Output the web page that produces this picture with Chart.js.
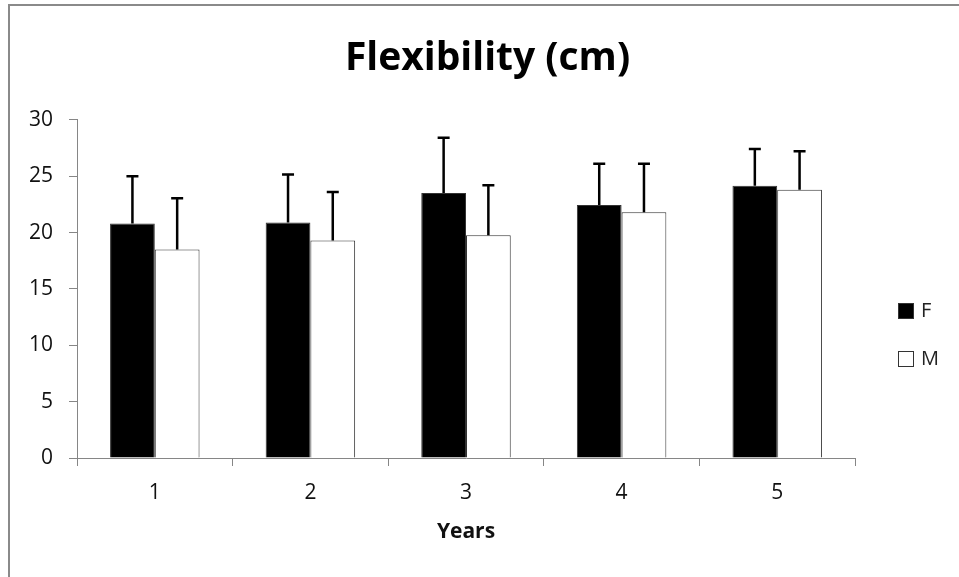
<!DOCTYPE html>
<html>
<head>
<meta charset="utf-8">
<script src="https://cdn.jsdelivr.net/npm/chart.js@4.4.0/dist/chart.umd.min.js"></script>
<style>
    html, body { margin: 0; padding: 0; background: #fff; }
    #frame { position: absolute; left: 8px; top: 4px; width: 1000px; height: 1000px;
             border: 2px solid #8a8a8a; box-sizing: border-box; }
    #wrap { position: absolute; left: 0; top: 0; width: 959px; height: 577px; }
</style>
</head>
<body>
<div id="frame"></div>
<div id="wrap"><canvas id="chart" width="959" height="577"></canvas></div>
<script>
// categories (years)
const years = ['1', '2', '3', '4', '5'];

// mean flexibility, cm
const female_values = [20.8, 20.9, 23.5, 22.45, 24.15];
const male_values = [18.5, 19.3, 19.75, 21.8, 23.8];

// standard deviation (upper error bar only)
const female_sd = [4.2, 4.25, 4.9, 3.65, 3.25];
const male_sd = [4.55, 4.3, 4.45, 4.3, 3.4];

const y_ticks = [0, 5, 10, 15, 20, 25, 30];

const axis_colour = '#868686';
const font_family = "'Open Sans', 'Liberation Sans', sans-serif";

// upper error bars with caps
const errorBars = {
    id: 'errorBars',
    afterDatasetsDraw(chart) {
        const ctx = chart.ctx;
        const y = chart.scales.y;
        ctx.save();
        ctx.strokeStyle = '#000';
        ctx.lineWidth = 2.5;
        chart.data.datasets.forEach((ds, i) => {
            const meta = chart.getDatasetMeta(i);
            meta.data.forEach((bar, j) => {
                const top = y.getPixelForValue(ds.data[j] + ds.sd[j]);
                ctx.beginPath();
                ctx.moveTo(bar.x, bar.y);
                ctx.lineTo(bar.x, top);
                ctx.moveTo(bar.x - 6, top);
                ctx.lineTo(bar.x + 6, top);
                ctx.stroke();
            });
        });
        ctx.restore();
    }
};

// legend on the right, like the spreadsheet one
const sideLegend = {
    id: 'sideLegend',
    afterDraw(chart) {
        const ctx = chart.ctx;
        ctx.save();
        ctx.font = '20px ' + font_family;
        ctx.textBaseline = 'middle';
        ctx.textAlign = 'left';
        chart.data.datasets.forEach((ds, i) => {
            const bx = 898.5, by = 303.5 + i * 48;
            ctx.fillStyle = ds.backgroundColor;
            ctx.fillRect(bx, by, 15, 15);
            ctx.strokeStyle = '#333';
            ctx.lineWidth = 1;
            ctx.strokeRect(bx, by, 15, 15);
            ctx.fillStyle = '#222';
            ctx.fillText(ds.label, 921, by + 8);
        });
        ctx.restore();
    }
};

new Chart(document.getElementById('chart'), {
    type: 'bar',
    data: {
        labels: years,
        datasets: [
            {
                label: 'F',
                data: female_values,
                sd: female_sd,
                backgroundColor: '#000000',
                borderColor: '#333333',
                borderWidth: 1,
            },
            {
                label: 'M',
                data: male_values,
                sd: male_sd,
                backgroundColor: '#ffffff',
                borderColor: '#333333',
                borderWidth: 1,
            },
        ],
    },
    options: {
        responsive: false,
        animation: false,
        categoryPercentage: 0.575,
        barPercentage: 1.0,
        layout: { padding: { left: 16, right: 0, top: 0, bottom: 0 } },
        plugins: {
            legend: { display: false },
            tooltip: { enabled: false },
            title: {
                display: true,
                text: 'Flexibility (cm)',
                color: '#000',
                font: { family: font_family, size: 39, weight: 'bold' },
                padding: { top: 35, bottom: 38 },
            },
        },
        scales: {
            x: {
                grid: { drawOnChartArea: false, drawTicks: true, tickLength: 8, color: axis_colour, offset: true },
                border: { color: axis_colour, width: 1 },
                ticks: { color: '#111', font: { family: font_family, size: 21 }, padding: 14 },
                title: {
                    display: true,
                    text: 'Years',
                    color: '#111',
                    font: { family: font_family, size: 21, weight: 'bold' },
                    padding: { top: 0, bottom: 32 },
                },
                afterFit(scale) { scale.height = 119; },
            },
            y: {
                min: 0,
                max: 30,
                afterBuildTicks(scale) { scale.ticks = y_ticks.map(v => ({ value: v })); },
                grid: { drawOnChartArea: false, drawTicks: true, tickLength: 8, color: axis_colour },
                border: { color: axis_colour, width: 1 },
                ticks: { color: '#111', font: { family: font_family, size: 21 }, padding: 16 },
                afterFit(scale) { scale.width = 61; },
            },
            // empty right-hand strip that holds the legend area
            spacer: {
                axis: 'y',
                position: 'right',
                display: true,
                grid: { display: false, drawTicks: false },
                border: { display: false },
                ticks: { display: false },
                afterFit(scale) { scale.width = 104; },
            },
        },
    },
    plugins: [errorBars, sideLegend],
});
</script>
</body>
</html>
